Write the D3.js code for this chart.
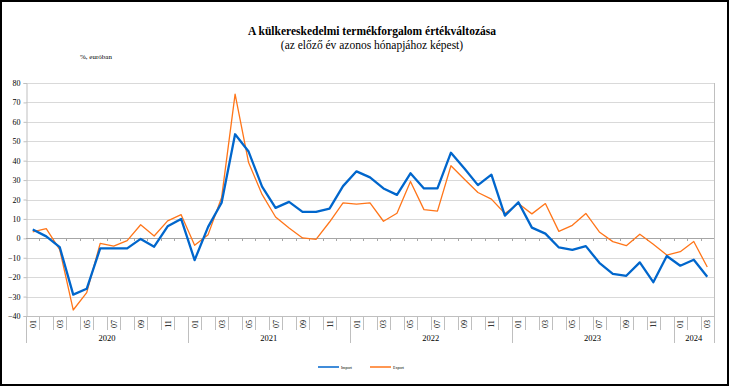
<!DOCTYPE html>
<html>
<head>
<meta charset="utf-8">
<script src="https://cdn.jsdelivr.net/npm/d3@7"></script>
<style>
html, body { margin: 0; padding: 0; background: #fff; }
svg { display: block; }
text { font-family: "Liberation Serif", "Times New Roman", serif; fill: #000; }
</style>
</head>
<body>
<svg id="chart" width="730" height="387"></svg>
<script>
// havi adatok 2020-01 .. 2024-03
var years = ["2020", "2021", "2022", "2023", "2024"];
var monthsPerYear = [12, 12, 12, 12, 3];
var importValues = [4.5, 1.0, -4.5, -29, -26, -5.2, -5.2, -5.2, -0.3, -4.3, 6.2, 10,
  -11.2, 5.9, 18.3, 53.6, 44.7, 26.6, 15.7, 18.8, 13.6, 13.6, 15.3, 26.9,
  34.5, 31.4, 25.7, 22.4, 33.5, 25.7, 25.7, 44.1, 36, 27.4, 32.8, 11.7,
  18.6, 5.5, 2.4, -4.7, -5.9, -4, -12.6, -18.3, -19.3, -12.4, -22.6, -9.1,
  -14.1, -11, -19.8];
var exportValues = [3.3, 5, -5.8, -36.9, -28, -2.6, -4, -1.2, 7, 1.2, 9, 12.2,
  -3.6, 1.9, 21, 74.3, 39, 22.6, 11, 5.3, 0.2, -0.5, 8.4, 18.3,
  17.6, 18.3, 8.8, 12.9, 29.3, 14.8, 14, 37.4, 30.4, 23.6, 20.2, 12.8,
  17.9, 12.6, 17.9, 3.6, 6.7, 12.8, 3.3, -1.7, -3.8, 2.1, -3.1, -8.6,
  -6.9, -1.6, -14.8];
var yTicks = [80, 70, 60, 50, 40, 30, 20, 10, 0, -10, -20, -30, -40];
var seriesNames = ["Import", "Export"];
var seriesColors = ["#0066cc", "#ff7519"];

var categories = [];
years.forEach(function (yr, yi) {
  for (var m = 1; m <= monthsPerYear[yi]; m++) {
    categories.push(yr + "-" + (m < 10 ? "0" : "") + m);
  }
});

var svg = d3.select("#chart");
var plotLeft = 26, plotRight = 714, plotTop = 83, plotBottom = 316;

// keret
svg.append("rect").attr("x", 1).attr("y", 1).attr("width", 727).attr("height", 384)
  .attr("fill", "none").attr("stroke", "#000").attr("stroke-width", 2);

svg.append("text").attr("x", 372).attr("y", 35).attr("text-anchor", "middle")
  .attr("font-size", "11.5px").attr("font-weight", "bold")
  .text("A külkereskedelmi termékforgalom értékváltozása");
svg.append("text").attr("x", 372).attr("y", 49).attr("text-anchor", "middle")
  .attr("font-size", "11.5px")
  .text("(az előző év azonos hónapjához képest)");
svg.append("text").attr("x", 80).attr("y", 59).attr("font-size", "7px")
  .text("%, euróban");

var x = d3.scaleBand().domain(categories).range([plotLeft, plotRight]).paddingInner(0).paddingOuter(0);
var y = d3.scaleLinear().domain([-40, 80]).range([plotBottom, plotTop]);

// rácsvonalak
svg.append("g").selectAll("line").data(yTicks.filter(function (d) { return d !== 0 && d !== -40; }))
  .enter().append("line")
  .attr("x1", plotLeft).attr("x2", plotRight)
  .attr("y1", function (d) { return Math.round(y(d)) + 0.5; })
  .attr("y2", function (d) { return Math.round(y(d)) + 0.5; })
  .attr("stroke", "#d9d9d9").attr("stroke-width", 1);

// jobb oldali keret
svg.append("line").attr("x1", plotRight + 0.5).attr("x2", plotRight + 0.5).attr("y1", plotTop).attr("y2", 343)
  .attr("stroke", "#bfbfbf");

// y tengely
var yAxis = d3.axisLeft(y).tickValues(yTicks).tickSize(3).tickPadding(3)
  .tickFormat(function (d) { return d < 0 ? "\u2212" + Math.abs(d) : d; });
var gy = svg.append("g").attr("transform", "translate(" + (plotLeft + 0.5) + ",0)").call(yAxis);
gy.select(".domain").attr("stroke", "#bfbfbf");
gy.selectAll(".tick line").attr("stroke", "#bfbfbf");
gy.selectAll(".tick text").attr("font-family", "Liberation Serif").attr("font-size", "8px").attr("fill", "#000");

// nulla vonal kis jelölőkkel
svg.append("line").attr("x1", plotLeft).attr("x2", plotRight)
  .attr("y1", Math.round(y(0)) + 0.5).attr("y2", Math.round(y(0)) + 0.5)
  .attr("stroke", "#a6a6a6");
svg.append("g").selectAll("line").data(categories.slice(1))
  .enter().append("line")
  .attr("x1", function (d) { return Math.round(x(d)) + 0.5; })
  .attr("x2", function (d) { return Math.round(x(d)) + 0.5; })
  .attr("y1", Math.round(y(0))).attr("y2", Math.round(y(0)) + 3).attr("stroke", "#a6a6a6");

// kategória tengely alul
svg.append("line").attr("x1", plotLeft).attr("x2", plotRight).attr("y1", plotBottom + 0.5).attr("y2", plotBottom + 0.5)
  .attr("stroke", "#bfbfbf");
var startIdx = [];
var acc = 0;
monthsPerYear.forEach(function (n) { startIdx.push(acc); acc += n; });
svg.append("g").selectAll("line").data(categories)
  .enter().append("line")
  .attr("x1", function (d) { return Math.round(x(d)) + 0.5; })
  .attr("x2", function (d) { return Math.round(x(d)) + 0.5; })
  .attr("y1", plotBottom)
  .attr("y2", function (d, i) { return startIdx.indexOf(i) >= 0 ? 343 : 330; })
  .attr("stroke", "#bfbfbf");

svg.append("g").selectAll("text").data(categories.filter(function (d, i) { return i % 2 === 0; }))
  .enter().append("text")
  .attr("font-size", "8px").attr("text-anchor", "middle")
  .attr("transform", function (d) {
    return "translate(" + (x(d) + x.bandwidth() / 2 + 3) + "," + (plotBottom + 8) + ") rotate(-90)";
  })
  .text(function (d) { return d.slice(5); });

svg.append("g").selectAll("text").data(years)
  .enter().append("text")
  .attr("font-size", "8.5px").attr("text-anchor", "middle")
  .attr("x", function (d, i) {
    var a = x(categories[startIdx[i]]);
    var b = x(categories[startIdx[i] + monthsPerYear[i] - 1]) + x.bandwidth();
    return (a + b) / 2;
  })
  .attr("y", 341)
  .text(function (d) { return d; });

// vonalak
var line = d3.line()
  .x(function (d, i) { return x(categories[i]) + x.bandwidth() / 2; })
  .y(function (d) { return y(d); });

svg.append("path").datum(exportValues).attr("d", line)
  .attr("fill", "none").attr("stroke", seriesColors[1]).attr("stroke-width", 1.3)
  .attr("stroke-linejoin", "round");
svg.append("path").datum(importValues).attr("d", line)
  .attr("fill", "none").attr("stroke", seriesColors[0]).attr("stroke-width", 2.3)
  .attr("stroke-linejoin", "round");

// jelmagyarázat
var legendX = [318, 370];
var lg = svg.append("g").selectAll("g").data(seriesNames).enter().append("g")
  .attr("transform", function (d, i) { return "translate(" + legendX[i] + ",367)"; });
lg.append("line").attr("x1", 0).attr("x2", 21).attr("y1", 0).attr("y2", 0)
  .attr("stroke", function (d, i) { return seriesColors[i]; }).attr("stroke-width", 1.5);
lg.append("text").attr("x", 23).attr("y", 1.5).attr("font-size", "4px").attr("fill", "#555")
  .text(function (d) { return d; });
</script>
</body>
</html>
